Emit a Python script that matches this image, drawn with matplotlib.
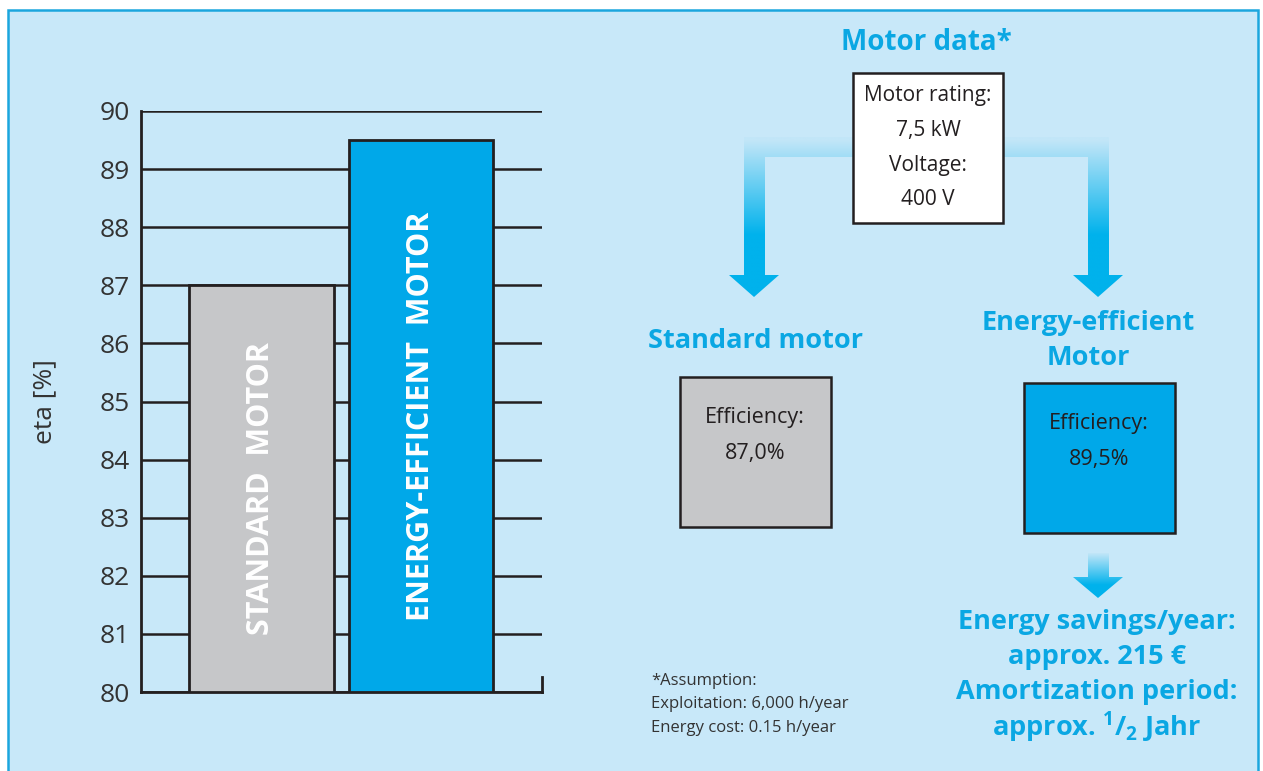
import numpy as np
import matplotlib
matplotlib.use("Agg")
import matplotlib.pyplot as plt
from matplotlib.patches import Rectangle, Polygon
from matplotlib.colors import LinearSegmentedColormap

plt.rcParams['font.family'] = ['Open Sans', 'DejaVu Sans']
plt.rcParams['mathtext.fontset'] = 'custom'
plt.rcParams['mathtext.rm'] = 'Open Sans'
plt.rcParams['mathtext.bf'] = 'Open Sans:bold'

# data
categories = ['STANDARD  MOTOR', 'ENERGY-EFFICIENT  MOTOR']
efficiency = [87.0, 89.5]
yticks = list(range(80, 91))
motor_data = ['Motor rating:', '7,5 kW', 'Voltage:', '400 V']
eff_labels = ['87,0%', '89,5%']
savings_lines = ['Energy savings/year:', 'approx. 215 €',
                 'Amortization period:', r'approx. $\mathbf{{}^{1}/{}_{2}}$ Jahr']
note_lines = ['*Assumption:', 'Exploitation: 6,000 h/year', 'Energy cost: 0.15 h/year']

BG = '#c8e8f9'
FRAME = '#1ba6de'
CYAN = '#0aa7e3'
BAR_BLUE = '#00a8e9'
BAR_GRAY = '#c6c7c9'
DARK = '#231f20'
TXT = '#333333'

W, H = 1263, 771
fig = plt.figure(figsize=(W / 100, H / 100), dpi=100)
fig.patch.set_facecolor('white')

# background canvas in pixel coords
bg = fig.add_axes([0, 0, 1, 1])
bg.set_xlim(0, W)
bg.set_ylim(H, 0)
bg.axis('off')
bg.add_patch(Rectangle((8, 10), 1250, 780, facecolor=BG, edgecolor=FRAME, lw=1.8))

cmap = LinearSegmentedColormap.from_list('arr', ['#c2e6f8', '#00b2ec'])


def grad_arrow(verts, y0, y1):
    poly = Polygon(verts, closed=True, facecolor='none', edgecolor='none')
    bg.add_patch(poly)
    xs = [v[0] for v in verts]
    ys = [v[1] for v in verts]
    yy = np.linspace(min(ys), max(ys), 300)
    g = np.clip((yy - y0) / (y1 - y0), 0, 1).reshape(-1, 1)
    im = bg.imshow(g, cmap=cmap, vmin=0, vmax=1, aspect='auto', origin='upper',
                   extent=(min(xs), max(xs), max(ys), min(ys)), zorder=2)
    im.set_clip_path(poly)


# arrows from the motor data box
grad_arrow([(853, 137), (744, 137), (744, 275), (729, 275), (754, 297),
            (779, 275), (765, 275), (765, 157), (853, 157)], 140, 235)
grad_arrow([(1003, 137), (1109, 137), (1109, 275), (1123, 275), (1098, 297),
            (1073, 275), (1088, 275), (1088, 157), (1003, 157)], 140, 235)
grad_arrow([(1088, 553), (1109, 553), (1109, 577), (1123, 577), (1098, 598),
            (1073, 577), (1088, 577)], 553, 585)
bg.set_xlim(0, W)
bg.set_ylim(H, 0)

# motor data box
bg.text(926, 42, 'Motor data*', color=CYAN, fontsize=20, fontweight='bold',
        ha='center', va='center')
bg.add_patch(Rectangle((853, 73), 150, 150, facecolor='white', edgecolor=DARK, lw=1.8, zorder=3))
for i, s in enumerate(motor_data):
    bg.text(928, 96 + i * 34.5, s, fontsize=15, color=DARK, ha='center', va='center', zorder=4)

# motor headings and efficiency boxes
bg.text(756, 341, 'Standard motor', color=CYAN, fontsize=19.5, fontweight='bold',
        ha='center', va='center')
bg.text(1088, 323, 'Energy-efficient', color=CYAN, fontsize=19.5, fontweight='bold',
        ha='center', va='center')
bg.text(1088, 358, 'Motor', color=CYAN, fontsize=19.5, fontweight='bold',
        ha='center', va='center')

boxes = [(680, 377, BAR_GRAY), (1024, 383, BAR_BLUE)]
for (x0, y0, c), lab in zip(boxes, eff_labels):
    bg.add_patch(Rectangle((x0, y0), 151, 150, facecolor=c, edgecolor=DARK, lw=1.8, zorder=3))
    bg.text(x0 + 75, y0 + 41, 'Efficiency:', fontsize=15.5, color=DARK, ha='center', va='center', zorder=4)
    bg.text(x0 + 75, y0 + 76, lab, fontsize=15.5, color=DARK, ha='center', va='center', zorder=4)

for i, s in enumerate(savings_lines):
    bg.text(1097, 622 + i * 35, s, color=CYAN, fontsize=19.5, fontweight='bold',
            ha='center', va='center')

for i, s in enumerate(note_lines):
    bg.text(651, 681 + i * 23.5, s, color=TXT, fontsize=12, ha='left', va='center')

bg.text(45, 402, 'eta [%]', rotation=90, fontsize=19, color=TXT, ha='center', va='center')

# bar chart
ax = fig.add_axes([141 / W, (H - 692) / H, 401 / W, 581 / H])
ax.patch.set_alpha(0)
x = np.arange(len(categories))
ax.bar(x, [v - 80 for v in efficiency], bottom=80, width=0.906,
       color=[BAR_GRAY, BAR_BLUE], edgecolor=DARK, linewidth=2, zorder=3)
ax.set_xlim(-0.755, 1.759)
ax.set_ylim(80, 90)
ax.set_yticks(yticks)
ax.set_xticks([])
ax.tick_params(axis='y', length=0, pad=8, labelsize=19, labelcolor=TXT)
ax.yaxis.grid(True, color=DARK, linewidth=1.8, zorder=0)
ax.set_axisbelow(True)
for sp in ['top', 'right']:
    ax.spines[sp].set_visible(False)
for sp in ['left', 'bottom']:
    ax.spines[sp].set_color(DARK)
    ax.spines[sp].set_linewidth(2)
ax.axvline(1.759, ymin=0, ymax=0.025, color=DARK, linewidth=2, clip_on=False)

for xi, v, lab in zip(x, efficiency, categories):
    ax.text(xi, (80 + v) / 2, lab, rotation=90, ha='center', va='center',
            color='white', fontsize=22, fontweight='bold', zorder=4)

fig.savefig('out.png', dpi=100, facecolor=fig.get_facecolor())
